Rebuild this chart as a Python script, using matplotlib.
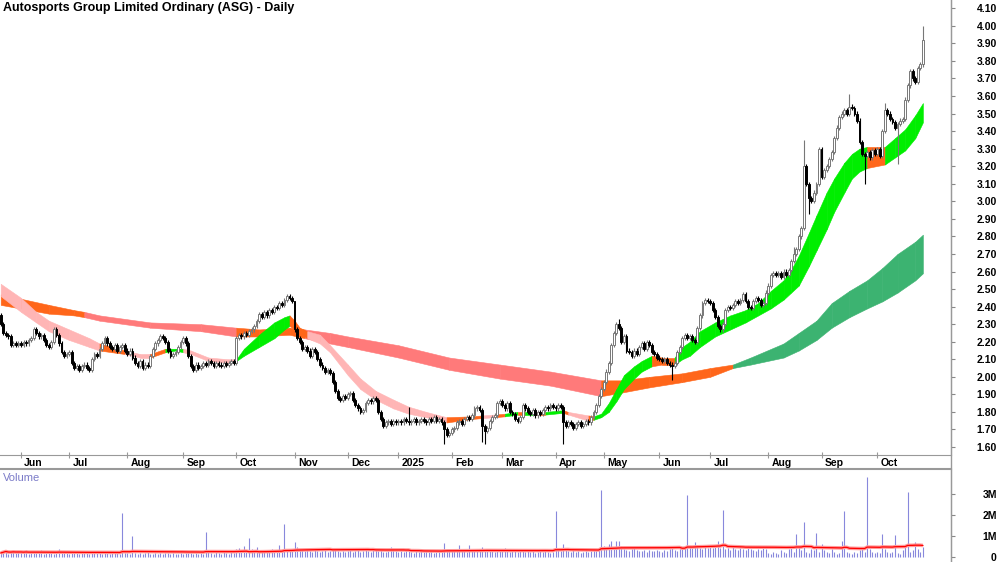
import matplotlib
matplotlib.use("Agg")
import matplotlib.pyplot as plt
import matplotlib.transforms as mtransforms
import numpy as np
import pandas as pd

plt.rcParams['font.family'] = ['Liberation Sans', 'DejaVu Sans']

TITLE = "Autosports Group Limited Ordinary (ASG) - Daily"
START = "2024-05-22"
ASX_HOLIDAYS = ["2024-06-10", "2024-12-25", "2024-12-26", "2025-01-01", "2025-01-27",
                "2025-04-18", "2025-04-21", "2025-04-25", "2025-06-09"]

# daily closes, month by month
close_may24 = [2.30, 2.25, 2.24, 2.23, 2.18, 2.19, 2.18, 2.19]
close_jun24 = [2.18, 2.20, 2.19, 2.21, 2.22, 2.27, 2.25, 2.23, 2.24, 2.21, 2.18, 2.17, 2.20,
               2.27, 2.24, 2.19, 2.14, 2.12, 2.13]
close_jul24 = [2.14, 2.08, 2.05, 2.06, 2.04, 2.06, 2.07, 2.05, 2.04, 2.10, 2.13, 2.12, 2.16,
               2.19, 2.22, 2.19, 2.17, 2.16, 2.18, 2.15, 2.17, 2.18, 2.15]
close_aug24 = [2.13, 2.15, 2.11, 2.08, 2.06, 2.09, 2.05, 2.07, 2.06, 2.12, 2.16, 2.19, 2.21,
               2.23, 2.22, 2.20, 2.15, 2.12, 2.13, 2.14, 2.17, 2.20]
close_sep24 = [2.22, 2.19, 2.12, 2.06, 2.04, 2.07, 2.05, 2.06, 2.08, 2.07, 2.09, 2.08, 2.06,
               2.08, 2.07, 2.06, 2.08, 2.07, 2.08, 2.09, 2.08]
close_oct24 = [2.22, 2.24, 2.23, 2.25, 2.24, 2.26, 2.27, 2.29, 2.32, 2.36, 2.34, 2.37, 2.35,
               2.38, 2.37, 2.40, 2.39, 2.42, 2.41, 2.44, 2.46, 2.45, 2.43]
close_nov24 = [2.27, 2.22, 2.20, 2.16, 2.17, 2.15, 2.12, 2.16, 2.14, 2.10, 2.07, 2.05, 2.03,
               2.04, 2.02, 1.97, 1.92, 1.88, 1.87, 1.89, 1.88]
close_dec24 = [1.90, 1.91, 1.87, 1.84, 1.82, 1.80, 1.81, 1.85, 1.87, 1.86, 1.88, 1.87, 1.80,
               1.76, 1.72, 1.74, 1.75, 1.73, 1.75, 1.74]
close_jan25 = [1.75, 1.74, 1.76, 1.75, 1.74, 1.75, 1.76, 1.74, 1.75, 1.76, 1.75, 1.74, 1.76,
               1.75, 1.77, 1.75, 1.76, 1.74, 1.70, 1.67, 1.68]
close_feb25 = [1.70, 1.71, 1.74, 1.75, 1.73, 1.76, 1.77, 1.76, 1.78, 1.82, 1.83, 1.81, 1.72,
               1.69, 1.71, 1.75, 1.77, 1.78, 1.85, 1.86]
close_mar25 = [1.84, 1.82, 1.85, 1.80, 1.79, 1.76, 1.75, 1.77, 1.84, 1.82, 1.80, 1.79, 1.81,
               1.78, 1.80, 1.79, 1.81, 1.83, 1.82, 1.84, 1.83]
close_apr25 = [1.82, 1.84, 1.83, 1.74, 1.72, 1.74, 1.73, 1.71, 1.73, 1.74, 1.72, 1.73, 1.75,
               1.74, 1.77, 1.80, 1.84, 1.89, 1.93]
close_may25 = [1.97, 2.03, 2.08, 2.18, 2.25, 2.30, 2.28, 2.20, 2.23, 2.15, 2.14, 2.12, 2.15,
               2.13, 2.17, 2.19, 2.16, 2.20, 2.18, 2.14, 2.13, 2.11]
close_jun25 = [2.10, 2.09, 2.10, 2.08, 2.07, 2.06, 2.08, 2.14, 2.17, 2.22, 2.24, 2.22, 2.23,
               2.21, 2.20, 2.28, 2.35, 2.42, 2.44, 2.43]
close_jul25 = [2.42, 2.38, 2.34, 2.29, 2.27, 2.30, 2.38, 2.40, 2.39, 2.41, 2.43, 2.42, 2.44,
               2.47, 2.43, 2.40, 2.39, 2.43, 2.45, 2.44, 2.41, 2.42, 2.48]
close_aug25 = [2.52, 2.58, 2.59, 2.58, 2.59, 2.57, 2.60, 2.58, 2.61, 2.66, 2.70, 2.73, 2.80,
               2.85, 3.20, 3.10, 3.02, 3.00, 3.05, 3.10, 3.30]
close_sep25 = [3.14, 3.18, 3.20, 3.24, 3.28, 3.36, 3.42, 3.48, 3.50, 3.52, 3.50, 3.54, 3.53,
               3.50, 3.46, 3.34, 3.27, 3.26, 3.28, 3.25, 3.29, 3.27]
close_oct25 = [3.30, 3.26, 3.40, 3.52, 3.50, 3.47, 3.45, 3.42, 3.44, 3.46, 3.47, 3.58, 3.66,
               3.74, 3.70, 3.68, 3.76, 3.78, 3.92]
first_open = 2.35

# long wicks (bar position: price)
high_marks = {116: 2.31, 161: 1.83, 244: 2.33, 313: 2.74, 317: 3.35, 335: 3.61, 349: 3.56, 364: 4.00}
low_marks = {175: 1.62, 190: 1.63, 191: 1.62, 222: 1.62, 265: 1.98, 319: 2.93, 341: 3.10, 354: 3.21}

# daily volume in thousands
vol_may24 = [180, 250, 320, 150, 210, 280, 190, 240]
vol_jun24 = [220, 160, 300, 140, 250, 190, 230, 170, 310, 150, 200, 260, 180, 140, 220, 350, 190, 160, 240]
vol_jul24 = [150, 210, 170, 260, 130, 190, 240, 160, 120, 280, 200, 170, 230, 150, 190, 260, 140, 180,
             220, 160, 130, 2100, 200]
vol_aug24 = [180, 150, 1000, 170, 140, 190, 120, 160, 210, 130, 150, 180, 110, 170, 140, 200, 160, 130,
             190, 150, 120, 170]
vol_sep24 = [140, 180, 160, 200, 130, 170, 150, 190, 120, 1200, 300, 160, 140, 210, 180, 150, 260, 170,
             140, 230, 190]
vol_oct24 = [350, 420, 280, 500, 320, 900, 380, 260, 450, 300, 240, 330, 280, 220, 350, 260, 300, 550,
             240, 1550, 280, 320, 260]
vol_nov24 = [700, 450, 350, 300, 280, 320, 260, 240, 300, 280, 220, 260, 310, 240, 280, 350, 300, 260,
             220, 280, 240]
vol_dec24 = [260, 300, 240, 280, 350, 220, 260, 300, 280, 240, 420, 300, 260, 380, 240, 220, 280, 450,
             300, 260]
vol_jan25 = [240, 280, 220, 300, 260, 240, 200, 280, 220, 260, 240, 300, 220, 260, 200, 240, 280, 220,
             650, 380, 300]
vol_feb25 = [280, 320, 260, 550, 300, 280, 240, 550, 300, 260, 280, 320, 450, 380, 300, 260, 280, 240,
             300, 260]
vol_mar25 = [260, 400, 300, 240, 280, 350, 220, 260, 300, 240, 280, 220, 260, 200, 240, 280, 220, 260,
             240, 200, 220]
vol_apr25 = [2200, 300, 260, 600, 380, 280, 240, 300, 220, 260, 200, 240, 280, 220, 260, 300, 350, 400, 3200]
vol_may25 = [500, 450, 600, 750, 400, 750, 750, 500, 350, 300, 280, 350, 400, 300, 260, 280, 320, 240,
             300, 280, 260, 300]
vol_jun25 = [280, 240, 300, 260, 350, 400, 300, 260, 350, 400, 450, 2950, 500, 400, 700, 450, 400, 350,
             500, 400]
vol_jul25 = [450, 400, 500, 750, 400, 2250, 350, 400, 300, 450, 350, 300, 400, 350, 300, 400, 350, 300,
             280, 350, 300, 400, 350]
vol_aug25 = [200, 150, 250, 180, 150, 300, 220, 180, 350, 400, 250, 1100, 450, 300, 1650, 250, 200, 350,
             300, 1150, 250]
vol_sep25 = [600, 300, 250, 200, 350, 250, 150, 200, 750, 2200, 250, 200, 150, 250, 200, 300, 350, 250,
             3800, 350, 250, 200]
vol_oct25 = [250, 200, 1100, 350, 250, 200, 250, 1050, 200, 150, 300, 450, 3100, 250, 300, 700, 350, 250, 450]

# trend ribbons: bar position, upper edge, lower edge, colour of the stretch that follows
fast_pos = [0, 8, 14, 19, 27, 35, 39, 44, 49, 55, 59, 65, 69, 72, 75, 82, 90, 93, 96, 102,
            108, 112, 114, 116, 118, 121, 126, 130, 137, 142, 148, 155, 161, 168, 176, 186, 190, 195, 199, 204,
            207, 211, 215, 222, 224, 232, 234, 237, 240, 243, 246, 250, 253, 257, 261, 266, 269, 272, 276, 282,
            288, 294, 299, 304, 309, 312, 315, 319, 322, 326, 329, 333, 336, 339, 342, 349, 353, 357, 361, 364]
fast_hi = [2.53, 2.45, 2.37, 2.32, 2.27, 2.22, 2.19, 2.17, 2.15, 2.13, 2.13, 2.16, 2.16, 2.16, 2.15, 2.11, 2.10, 2.10, 2.16, 2.24,
           2.31, 2.34, 2.35, 2.32, 2.28, 2.26, 2.24, 2.18, 2.07, 1.99, 1.92, 1.87, 1.83, 1.80, 1.77, 1.775, 1.78, 1.785, 1.79, 1.80,
           1.80, 1.80, 1.80, 1.81, 1.80, 1.78, 1.775, 1.79, 1.85, 1.93, 2.01, 2.06, 2.09, 2.12, 2.11, 2.11, 2.17, 2.20, 2.26, 2.31,
           2.35, 2.38, 2.42, 2.49, 2.55, 2.61, 2.69, 2.82, 2.92, 3.05, 3.13, 3.22, 3.27, 3.30, 3.31, 3.31, 3.36, 3.41, 3.49, 3.56]
fast_lo = [2.46, 2.37, 2.31, 2.26, 2.21, 2.17, 2.15, 2.14, 2.13, 2.11, 2.11, 2.14, 2.15, 2.14, 2.13, 2.09, 2.08, 2.09, 2.12, 2.17,
           2.22, 2.27, 2.29, 2.27, 2.25, 2.22, 2.19, 2.14, 2.01, 1.93, 1.87, 1.82, 1.79, 1.77, 1.74, 1.76, 1.765, 1.77, 1.775, 1.785,
           1.785, 1.785, 1.785, 1.795, 1.785, 1.75, 1.755, 1.77, 1.80, 1.86, 1.93, 1.99, 2.03, 2.06, 2.07, 2.07, 2.10, 2.12, 2.17, 2.23,
           2.27, 2.31, 2.35, 2.39, 2.44, 2.48, 2.52, 2.63, 2.72, 2.84, 2.94, 3.05, 3.13, 3.17, 3.19, 3.21, 3.25, 3.29, 3.36, 3.45]
fast_col = ("ppppppooppoggppppggg" "ggooopppppppppoopogo"
            "gogopogggggggooggggg" "ggggggggggggggoggggg")

slow_pos = [0, 19, 29, 33, 39, 59, 79, 93, 102, 114, 120, 130, 137, 157, 177, 197, 217, 237, 245, 256,
            269, 280, 289, 296, 309, 315, 322, 328, 335, 342, 348, 354, 361, 364]
slow_hi = [2.47, 2.41, 2.38, 2.37, 2.35, 2.31, 2.30, 2.28, 2.27, 2.28, 2.27, 2.25, 2.23, 2.18, 2.11, 2.07, 2.03, 1.98, 1.98, 2.00,
           2.02, 2.05, 2.07, 2.11, 2.19, 2.25, 2.32, 2.42, 2.49, 2.55, 2.62, 2.70, 2.77, 2.81]
slow_lo = [2.41, 2.36, 2.35, 2.34, 2.32, 2.28, 2.26, 2.23, 2.23, 2.24, 2.22, 2.19, 2.17, 2.11, 2.04, 1.99, 1.95, 1.89, 1.91, 1.94,
           1.97, 2.00, 2.05, 2.07, 2.11, 2.15, 2.21, 2.28, 2.34, 2.39, 2.43, 2.48, 2.55, 2.59]
slow_col = "ooossss" "ooo" "sssssss" "ooooo" "dddddddddddd"

RIBBON_COLORS = {'g': '#00EE00', 'p': '#FFB5B5', 'o': '#FF661A', 's': '#FF7A7A', 'd': '#3CB371'}

closes = np.array(close_may24 + close_jun24 + close_jul24 + close_aug24 + close_sep24 + close_oct24
                  + close_nov24 + close_dec24 + close_jan25 + close_feb25 + close_mar25 + close_apr25
                  + close_may25 + close_jun25 + close_jul25 + close_aug25 + close_sep25 + close_oct25)
volume = np.array(vol_may24 + vol_jun24 + vol_jul24 + vol_aug24 + vol_sep24 + vol_oct24 + vol_nov24
                  + vol_dec24 + vol_jan25 + vol_feb25 + vol_mar25 + vol_apr25 + vol_may25 + vol_jun25
                  + vol_jul25 + vol_aug25 + vol_sep25 + vol_oct25) / 1000.0
n = len(closes)

days = pd.bdate_range(START, periods=n + 30)
days = days[~days.isin(pd.to_datetime(ASX_HOLIDAYS))][:n]
x = np.arange(n)

opens = np.concatenate([[first_open], closes[:-1]])
highs = np.maximum(opens, closes) + 0.012
lows = np.minimum(opens, closes) - 0.012
for k, v in high_marks.items():
    highs[k] = v
for k, v in low_marks.items():
    lows[k] = v

fig = plt.figure(figsize=(10, 5.62), dpi=100)
ax = fig.add_axes([0, 107 / 562, 951 / 1000, 455 / 562])
axv = fig.add_axes([0, 0, 951 / 1000, 93 / 562])

# ribbons
for pos, hi, lo, col, z in [(slow_pos, slow_hi, slow_lo, slow_col, 1), (fast_pos, fast_hi, fast_lo, fast_col, 2)]:
    for k in range(len(pos) - 1):
        c = RIBBON_COLORS[col[k]]
        ax.fill_between(pos[k:k + 2], lo[k:k + 2], hi[k:k + 2], facecolor=c, edgecolor=c,
                        linewidth=0.4, zorder=z)

# candles
up = closes >= opens
ax.vlines(x[up], lows[up], highs[up], color='#777777', linewidth=0.8, zorder=3)
ax.vlines(x[~up], lows[~up], highs[~up], color='black', linewidth=0.8, zorder=3)
body = np.maximum(np.abs(closes - opens), 0.005)
ax.bar(x[up], body[up], bottom=np.minimum(opens, closes)[up], width=0.72,
       color='white', edgecolor='#777777', linewidth=0.7, zorder=4)
ax.bar(x[~up], body[~up], bottom=np.minimum(opens, closes)[~up], width=0.72,
       color='black', edgecolor='black', linewidth=0.7, zorder=4)

x_lo, x_hi = -0.28, 8 + 367.1
ax.set_xlim(x_lo, x_hi)
ax.set_ylim(1.5547, 4.147)
ax.yaxis.tick_right()
ticks = np.round(np.arange(1.6, 4.11, 0.1), 2)
ax.set_yticks(ticks)
ax.set_yticklabels([f"{v:.2f}" for v in ticks], fontsize=7.5, fontweight='bold', ha='right')
ax.tick_params(axis='y', length=3, pad=30, color='#888888')
for s in ['top', 'left']:
    ax.spines[s].set_visible(False)
ax.spines['bottom'].set_color('#999999')
ax.spines['right'].set_color('#999999')

# month ticks
month_start = [k for k in range(1, n) if days[k].month != days[k - 1].month]
ax.set_xticks(month_start)
ax.set_xticklabels([])
ax.tick_params(axis='x', direction='inout', length=4, color='#999999')
trans = mtransforms.blended_transform_factory(ax.transData, ax.transAxes)
for k in month_start:
    lab = str(days[k].year) if days[k].month == 1 else days[k].strftime('%b')
    ax.text(k + 1.3, -0.018, lab, transform=trans, fontsize=7.5, fontweight='bold',
            ha='left', va='center', clip_on=False)

fig.text(0.003, 1 - 8 / 562, TITLE, fontsize=9, fontweight='bold', ha='left', va='center')

# volume
axv.vlines(x, 0, volume, color='#8888DC', linewidth=0.8)
vol_ma = pd.Series(volume).rolling(50, min_periods=1).mean().values
axv.plot(x, vol_ma, color='#FF9A9A', linewidth=2.6, solid_capstyle='butt')
axv.plot(x, vol_ma, color='#FF0000', linewidth=0.9)
axv.set_xlim(x_lo, x_hi)
axv.set_ylim(-0.25, 4.18)
axv.yaxis.tick_right()
axv.set_yticks([0, 1, 2, 3])
axv.set_yticklabels(['0', '1M', '2M', '3M'], fontsize=7.5, fontweight='bold', ha='right')
axv.tick_params(axis='y', length=3, pad=30, color='#888888')
axv.set_xticks([])
for s in ['left', 'bottom']:
    axv.spines[s].set_visible(False)
axv.spines['top'].set_color('#999999')
axv.spines['top'].set_linewidth(1.5)
axv.spines['right'].set_color('#999999')
axv.text(0.003, 0.9, 'Volume', transform=axv.transAxes, fontsize=8, color='#7B7BC8',
         ha='left', va='center')

fig.add_artist(plt.Line2D([951 / 1000, 951 / 1000], [0, 1], transform=fig.transFigure,
                          color='#999999', linewidth=1))

fig.savefig('out.png', dpi=100)
